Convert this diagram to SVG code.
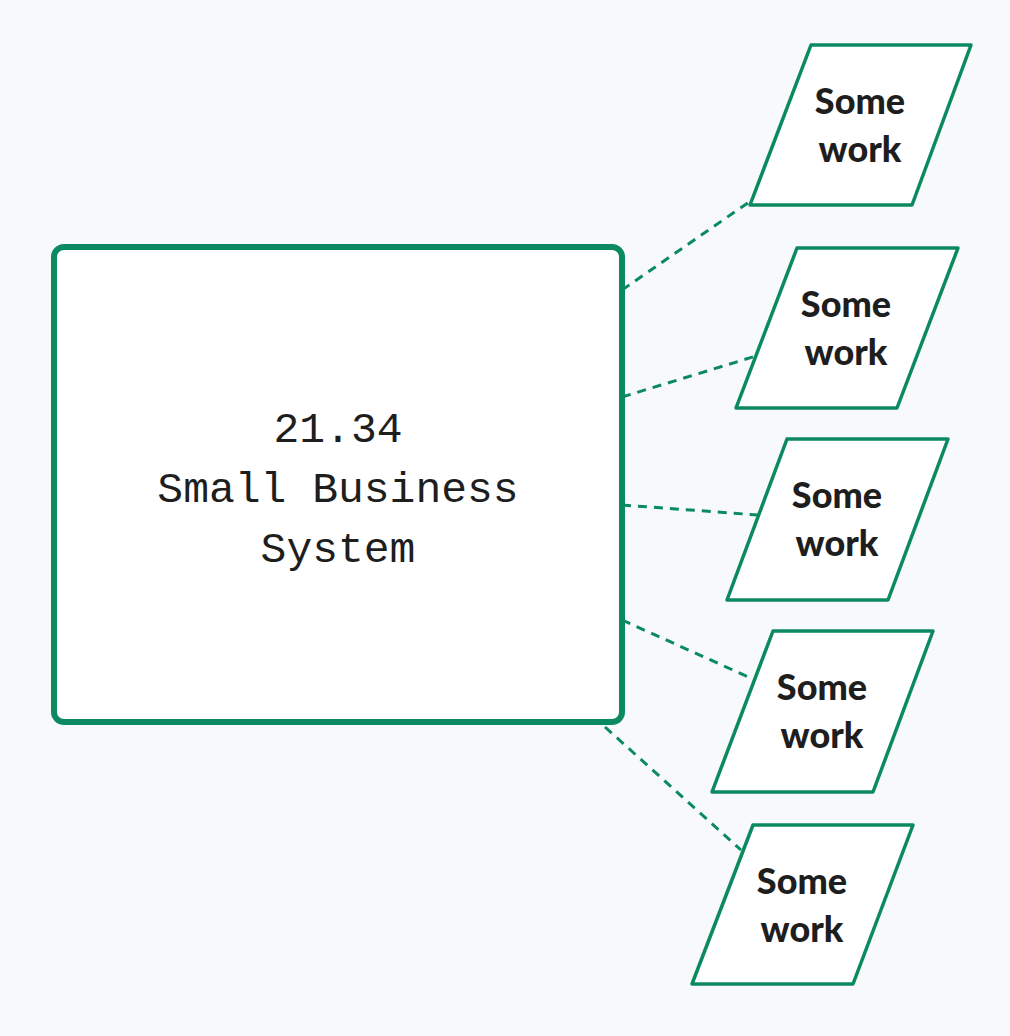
<svg xmlns="http://www.w3.org/2000/svg" width="1010" height="1036" viewBox="0 0 1010 1036">
<style>
.p{fill:#fff;stroke:#0b8a61;stroke-width:3.5;stroke-linejoin:round}
.t{font-family:"Lato","Liberation Sans",sans-serif;font-weight:900;font-size:36px;fill:#1e1e1e;text-anchor:middle}
.m{font-family:"Liberation Mono","DejaVu Sans Mono",monospace;font-size:43px;fill:#1e1e1e;text-anchor:middle}
.c{stroke:#0b8a61;stroke-width:3;stroke-dasharray:9 7;fill:none}
</style>
<rect width="1010" height="1036" fill="#f8f9fb"/>
<g id="connectors">
<path class="c" d="M622 290 L752 200"/>
<path class="c" d="M622 397 L756 356"/>
<path class="c" d="M622 505 L758 515"/>
<path class="c" d="M622 620 L755 680"/>
<path class="c" d="M605 727 L741 850"/>
</g>
<g id="main">
<rect x="54" y="247" width="568" height="475" rx="10" fill="#fff" stroke="#0b8a61" stroke-width="6"/>
<text class="m" x="338" y="442">21.34</text>
<text class="m" x="338" y="502">Small Business</text>
<text class="m" x="338" y="562">System</text>
</g>
<g id="n1"><path class="p" d="M811 45 L971 45 L912 205 L750 205 Z"/><text class="t" x="860" y="114">Some</text><text class="t" x="860" y="162">work</text></g>
<g id="n2"><path class="p" d="M797 248 L958 248 L897 408 L736 408 Z"/><text class="t" x="846" y="317">Some</text><text class="t" x="846" y="365">work</text></g>
<g id="n3"><path class="p" d="M787 439 L948 439 L888 600 L727 600 Z"/><text class="t" x="837" y="508">Some</text><text class="t" x="837" y="556">work</text></g>
<g id="n4"><path class="p" d="M773 631 L933 631 L873 792 L712 792 Z"/><text class="t" x="822" y="700">Some</text><text class="t" x="822" y="748">work</text></g>
<g id="n5"><path class="p" d="M753 825 L913 825 L853 984 L692 984 Z"/><text class="t" x="802" y="894">Some</text><text class="t" x="802" y="942">work</text></g>
</svg>
